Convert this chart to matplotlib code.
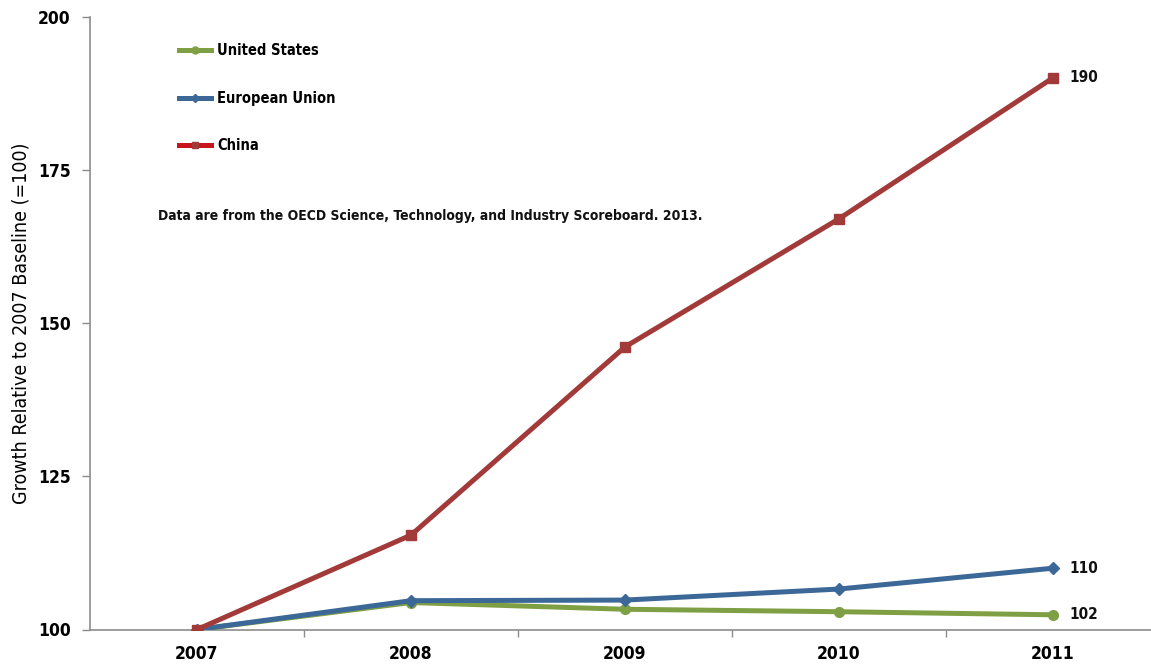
import matplotlib
matplotlib.use("Agg")
import matplotlib.pyplot as plt
from matplotlib.lines import Line2D

years = ["2007", "2008", "2009", "2010", "2011"]
united_states = [100, 104.4, 103.3, 102.9, 102.4]
european_union = [100, 104.7, 104.8, 106.6, 110.0]
china = [100, 115.4, 146.1, 167.0, 190.0]

note = "Data are from the OECD Science, Technology, and Industry Scoreboard. 2013."
ylabel = "Growth Relative to 2007 Baseline (=100)"

plt.rcParams["font.family"] = ["DejaVu Sans"]
plt.rcParams["font.stretch"] = "condensed"

c_us = "#7f9f45"
c_eu = "#3c6898"
c_cn = "#a33a3a"
c_cn_leg = "#c8141c"

fig = plt.figure(figsize=(11.51, 6.68), dpi=100)
ax = fig.add_axes([90 / 1151, 38.5 / 668, 1070 / 1151, 613 / 668])

x = list(range(len(years)))
ax.plot(x, united_states, color=c_us, lw=3.6, marker="o", ms=7, zorder=3)
ax.plot(x, european_union, color=c_eu, lw=3.6, marker="D", ms=6, zorder=4)
ax.plot(x, china, color=c_cn, lw=3.6, marker="s", ms=7, zorder=5)

# end-of-line value labels
for series in (united_states, european_union, china):
    ax.text(x[-1] + 0.075, series[-1], f"{series[-1]:.0f}", ha="left", va="center",
            fontsize=11, fontweight="bold", color="#111111")

ax.set_xlim(-0.5, len(years) - 0.5)
ax.set_ylim(100, 200)
ax.set_yticks([100, 125, 150, 175, 200])
ax.set_xticks([i + 0.5 for i in x[:-1]])
ax.set_xticklabels([])
ax.set_xticks(x, minor=True)
ax.set_xticklabels(years, minor=True)

ax.tick_params(axis="x", which="major", length=5, width=1, color="#8c8c8c")
ax.tick_params(axis="x", which="minor", length=0, pad=11, labelsize=12.5)
ax.tick_params(axis="y", length=6, width=1, color="#8c8c8c", pad=8, labelsize=12.5)
for lab in ax.get_xticklabels(minor=True) + ax.get_yticklabels():
    lab.set_fontweight("bold")

for side in ("top", "right"):
    ax.spines[side].set_visible(False)
for side in ("left", "bottom"):
    ax.spines[side].set_color("#8c8c8c")
    ax.spines[side].set_linewidth(1.2)

ax.set_ylabel(ylabel, fontsize=14, labelpad=5)

handles = [
    Line2D([], [], color=c_us, lw=3.6, marker="o", ms=5),
    Line2D([], [], color=c_eu, lw=3.6, marker="D", ms=4.5),
    Line2D([], [], color=c_cn_leg, lw=3.6, marker="s", ms=5, markerfacecolor=c_cn,
           markeredgecolor=c_cn),
]
ax.legend(handles, ["United States", "European Union", "China"], loc="upper left",
          bbox_to_anchor=(0.071, 0.978), frameon=False, handlelength=2.2,
          handletextpad=0.4, labelspacing=2.24, prop={"size": 10.5, "weight": "bold"})

ax.text(0.064, 0.675, note, transform=ax.transAxes, fontsize=10, fontweight="bold",
        ha="left", va="center", color="#111111")

fig.savefig("out.png", dpi=100)
